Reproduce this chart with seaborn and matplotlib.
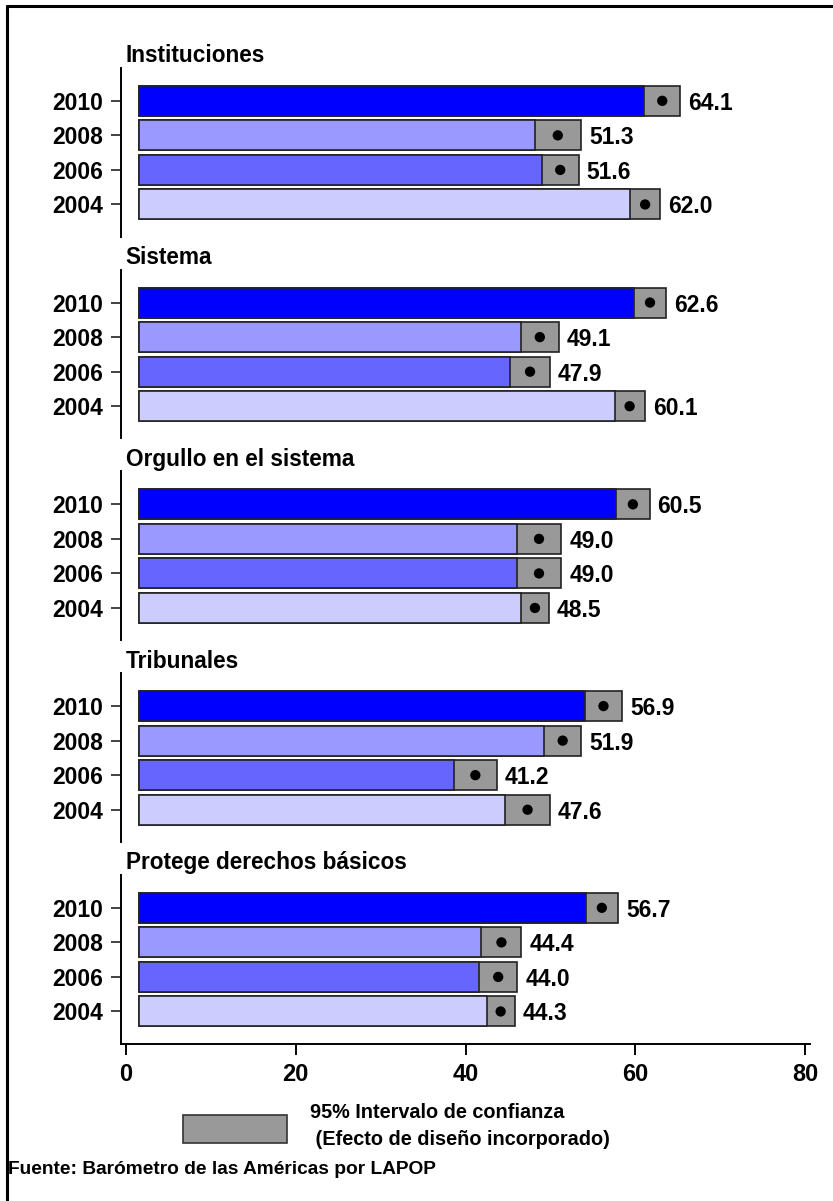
import matplotlib
matplotlib.use('Agg')
import matplotlib.pyplot as plt
import seaborn as sns
import pandas as pd
from matplotlib.patches import Rectangle
from matplotlib.lines import Line2D

# Data
years = ['2010', '2008', '2006', '2004']
year_colors = ['#0000FF', '#9999FF', '#6666FF', '#CCCCFF']
panels = ['Instituciones', 'Sistema', 'Orgullo en el sistema', 'Tribunales',
          'Protege derechos básicos']

instituciones = [64.1, 51.3, 51.6, 62.0]
sistema = [62.6, 49.1, 47.9, 60.1]
orgullo = [60.5, 49.0, 49.0, 48.5]
tribunales = [56.9, 51.9, 41.2, 47.6]
protege = [56.7, 44.4, 44.0, 44.3]

# half width of 95% CI (estimated from the grey boxes)
ci_instituciones = [2.2, 2.85, 2.25, 1.85]
ci_sistema = [1.95, 2.3, 2.45, 1.85]
ci_orgullo = [2.05, 2.75, 2.75, 1.7]
ci_tribunales = [2.3, 2.3, 2.65, 2.75]
ci_protege = [2.0, 2.45, 2.35, 1.7]

axis_ticks = [0, 20, 40, 60, 80]

values = [instituciones, sistema, orgullo, tribunales, protege]
cis = [ci_instituciones, ci_sistema, ci_orgullo, ci_tribunales, ci_protege]

sns.set_style('white')
plt.rcParams['font.family'] = ['Liberation Sans', 'DejaVu Sans']
plt.rcParams['font.weight'] = 'bold'
plt.rcParams['text.color'] = 'black'
plt.rcParams['xtick.color'] = 'black'
plt.rcParams['ytick.color'] = 'black'
plt.rcParams['xtick.labelcolor'] = 'black'
plt.rcParams['ytick.labelcolor'] = 'black'

W, H = 833, 1201
fig = plt.figure(figsize=(W / 100, H / 100), dpi=100)

def rect(x0, y0, w, h):
    # pixel box (top-left origin) -> figure fraction
    return [x0 / W, 1 - (y0 + h) / H, w / W, h / H]

ax_x0, ax_w = 121, 689
panel_h = 168.6
panel_step = 201.75

for k, (name, vals, ci) in enumerate(zip(panels, values, cis)):
    top = 68 + k * panel_step
    ax = fig.add_axes(rect(ax_x0, top, ax_w, panel_h))
    df = pd.DataFrame({'year': years, 'value': vals, 'ci': ci})
    df['lo'] = df['value'] - df['ci']
    df['hi'] = df['value'] + df['ci']

    # grey confidence box (full bar to upper bound), then coloured bar to lower bound
    sns.barplot(data=df, y='year', x='hi', order=years, orient='h', color='#999999',
                saturation=1, width=0.87, edgecolor='#222222', linewidth=1.2, ax=ax)
    sns.barplot(data=df, y='year', x='lo', order=years, orient='h', hue='year',
                hue_order=years, palette=year_colors, legend=False, saturation=1,
                width=0.87, edgecolor='#222222', linewidth=1.2, ax=ax)
    sns.scatterplot(data=df, y='year', x='value', color='black', s=55,
                    edgecolor='none', ax=ax, zorder=5)

    for i, row in df.iterrows():
        ax.annotate(f"{row['value']:.1f}", xy=(row['hi'], i), xytext=(8, 0),
                    textcoords='offset pixels', va='center_baseline', ha='left',
                    fontsize=16.5, fontweight='bold')

    ax.set_xlim(-2.21, 82.2)
    ax.set_ylim(3.93, -0.95)
    ax.set_xlabel('')
    ax.set_ylabel('')
    ax.set_xticks([])
    for s in ['top', 'right', 'bottom']:
        ax.spines[s].set_visible(False)
    ax.spines['left'].set_linewidth(1.4)
    ax.spines['left'].set_color('black')
    ax.tick_params(axis='y', left=True, length=7.5, width=1.2, pad=5.5,
                   labelsize=16.5, color='#222222')
    ax.set_facecolor('none')

    ax.text(0.007, 1 + 12 / panel_h, name, transform=ax.transAxes, ha='left',
            va='center', fontsize=16.3, fontweight='bold')

# bottom value axis, drawn on its own scale as in the original
axb = fig.add_axes(rect(ax_x0, 68 + 4 * panel_step, ax_w, panel_h))
axb.set_facecolor('none')
axb.set_xlim(-0.59, 80.59)
axb.set_xticks(axis_ticks)
axb.set_yticks([])
for s in ['top', 'right', 'left']:
    axb.spines[s].set_visible(False)
axb.spines['bottom'].set_linewidth(1.4)
axb.spines['bottom'].set_color('black')
axb.tick_params(axis='x', bottom=True, length=8, width=1.4, pad=6, labelsize=17)

# legend box
fig.add_artist(Rectangle((183 / W, 1 - 1143 / H), 104 / W, 28 / H,
                         transform=fig.transFigure, facecolor='#999999',
                         edgecolor='#333333', linewidth=1.2))
fig.text(310 / W, 1 - 1126 / H, '95% Intervalo de confianza\n (Efecto de diseño incorporado)',
         ha='left', va='center', fontsize=14.3, fontweight='bold', linespacing=1.5)
fig.text(8 / W, 1 - 1169 / H, 'Fuente: Barómetro de las Américas por LAPOP',
         ha='left', va='center', fontsize=13.8, fontweight='bold')

# outer frame (left and top edges visible)
fig.add_artist(Line2D([7 / W, 7 / W], [0, 1 - 6 / H], transform=fig.transFigure,
                      color='black', linewidth=2.2))
fig.add_artist(Line2D([7 / W, 1], [1 - 6 / H, 1 - 6 / H], transform=fig.transFigure,
                      color='black', linewidth=2.2))

fig.savefig('out.png', dpi=100)
